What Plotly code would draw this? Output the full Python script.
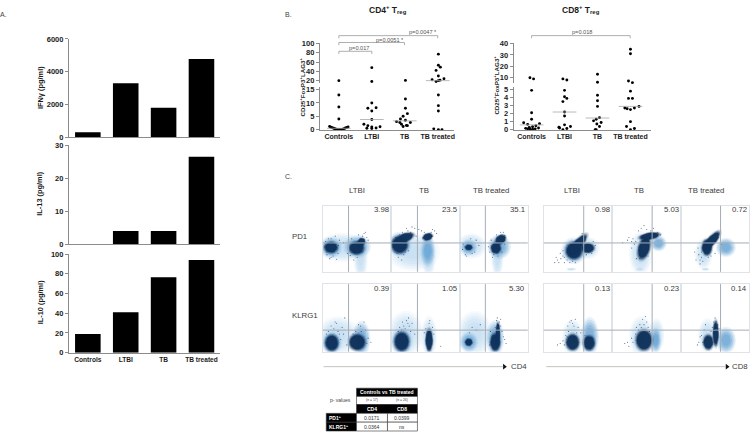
import math
import plotly.graph_objects as go

W, H = 750, 436
FONT = "Liberation Sans"

# ---------- Panel A data ----------
groups = ["Controls", "LTBI", "TB", "TB treated"]
ifng = [300, 3300, 1800, 4780]
il13 = [0, 4, 4, 26.5]
il10 = [19, 41, 76.5, 94]

# ---------- Panel B data: (offset from category, value) ----------
cd4_controls = [(0,20),(0,13),(0,8.5),(0,4),(-.28,1.2),(-.24,.9),(-.2,.7),(-.16,.5),(-.12,.35),(-.08,.2),(-.04,.1),(0,0),(.04,.05),(.08,.1),(.12,.2),(.16,.4),(.2,.6),(.24,.8),(.28,1.0)]
cd4_ltbi = [(0,48),(0,18),(0,10),(-.12,8),(.13,8.2),(0,7),(0,3.8),(-.24,2),(-.12,1.5),(-.15,.5),(0,1),(0,.4),(.13,.6),(.25,1.1)]
cd4_tb = [(.02,20.5),(.02,11.5),(.02,8),(.08,6),(-.05,5),(-.13,4),(.02,3.5),(.17,2.7),(-.15,2.7),(-.25,3),(-.1,2),(.08,1.5),(-.05,1.2),(.05,1.6)]
cd4_treated = [(.02,77),(.02,53),(.08,49),(-.05,42),(.02,30),(.19,24),(-.17,22),(.07,21),(-.05,18),(.02,20),(.02,13),(.02,9),(.02,7),(-.12,.3),(.02,0),(.13,0)]
cd4_medians = [.5, 3.8, 3.3, 20]
cd8_controls = [(-.05,10),(.06,9),(0,4.9),(0,2.1),(0,1.3),(-.24,.86),(-.12,.66),(.24,.74),(.13,.49),(.03,.37),(-.07,.29),(-.18,.16),(-.12,.1),(-.05,.05),(.03,.05),(.11,.1),(.21,.2)]
cd8_ltbi = [(-.05,9),(.07,8),(0,4.9),(0,4.1),(.07,3.9),(-.05,3.5),(0,2.2),(0,1.7),(0,.6),(.18,.4),(-.17,.3),(.07,.15),(-.15,.2),(-.05,0)]
cd8_tb = [(0,13),(0,6),(0,4.3),(0,3.6),(0,2.9),(.06,1.5),(-.04,1.3),(-.12,1.1),(.11,.9),(-.02,.7),(.06,.4),(-.07,0),(-.04,0)]
cd8_treated = [(0,35),(0,31),(-.06,7.1),(.06,5.7),(0,4.8),(-.06,3.9),(.06,3.9),(.26,2.9),(.12,2.7),(-.1,2.6),(0,2.5),(-.17,2.7),(0,1),(-.12,.4),(.12,.15),(0,0)]
cd8_medians = [.6, 2.2, 1.45, 2.9]

# ---------- Panel C data ----------
flow_headers = ["LTBI", "TB", "TB treated"]
flow_rows = ["PD1", "KLRG1"]
flow_freq = [["3.98","23.5","35.1","0.98","5.03","0.72"],["0.39","1.05","5.30","0.13","0.23","0.14"]]
# blobs per panel, in % of panel: x, y, rx, ry, angle, level(0 pale,1 mid,2 navy)
flow_blobs = {
 0:[(28,37,27,17,0,0),(55,22,8,28,0,0),(12,37,12,12,0,1),(50,38,15,13,0,1),(12,37,9,8,0,2),(49,36,10,9,0,2),(56,45,6,5,60,2)],
 1:[(32,30,30,22,0,0),(54,22,8,24,0,0),(53,32,8,18,0,1),(12,42,13,14,0,1),(12,41,11,12,0,2),(20,52,12,6,20,2),(53,53,7,5,20,2)],
 2:[(17,39,17,15,0,0),(55,20,7,22,0,0),(13,37,9,9,0,1),(58,38,13,14,0,1),(13,37,5,4,0,2),(53,36,7,8,0,2),(60,49,8,6,40,2)],
 3:[(64,36,14,13,0,0),(40,4,6,2,0,0),(44,32,14,15,0,1),(44,32,11,12,0,2),(50,42,17,6,50,2),(64,36,9,7,0,2)],
 4:[(41,28,13,26,0,0),(40,4,5,2,0,0),(67,43,9,9,0,1),(46,36,8,16,-15,2),(54,54,14,5,10,2)],
 5:[(33,27,10,18,0,0),(36,4,5,2,0,0),(66,37,11,11,0,1),(38,37,7,11,0,2),(45,47,16,6,50,2)],
 6:[(22,24,24,22,0,0),(56,19,10,20,0,1),(13,13,11,13,0,1),(13,13,9,11,0,2),(50,14,11,11,0,2)],
 7:[(21,27,20,26,0,0),(55,22,9,24,0,0),(15,15,12,15,0,1),(15,15,10,13,0,2),(55,17,5,15,0,2)],
 8:[(22,27,20,26,0,0),(52,20,10,20,0,1),(13,14,10,11,0,1),(13,14,5,5,0,2),(52,14,7,12,0,2),(56,27,3,15,0,2)],
 9:[(42,20,12,22,0,0),(67,22,10,22,0,1),(42,14,9,11,0,2),(66,13,8,10,0,2)],
 10:[(42,22,14,24,0,0),(64,24,9,20,0,0),(63,17,6,14,0,1),(46,17,11,14,0,2)],
 11:[(39,24,11,20,0,0),(66,17,11,15,0,1),(40,14,7,10,0,2),(51,27,4,17,0,2)],
}
# sparse events read around the populations, % of panel
flow_specks = {
 0:[(8,50),(15,24),(20,19),(5,30),(24,48),(30,44),(60,58),(64,52),(58,30),(12,22),(40,25),(45,18),(62,60),(18,54),(3,38),(6,26),(10,20),(22,28),(23,40),(4,46),(12,50),(60,48),(63,44),(42,50),(36,28),(52,56),(58,54),(50,22),(66,48)],
 1:[(5,30),(10,22),(15,18),(24,62),(30,68),(34,66),(26,56),(60,64),(58,60),(66,58),(48,60),(38,58),(8,28),(18,26),(3,40),(16,60),(12,56),(22,66),(28,60),(36,54),(44,62),(63,62),(46,50),(25,32),(20,30),(6,52),(40,64),(30,56)],
 2:[(5,42),(18,28),(24,48),(28,40),(10,24),(54,56),(66,55),(44,30),(48,22),(62,30),(4,34),(8,26),(22,30),(16,50),(64,60),(60,60),(46,48),(42,38),(50,26),(56,24),(66,42)],
 3:[(25,20),(20,18),(30,14),(36,26),(16,14),(28,24),(60,48),(75,40),(58,24),(34,18),(24,28),(30,22),(33,30),(42,16),(38,14),(46,14),(62,26),(70,28),(72,46),(56,58),(22,14),(28,32),(18,22)],
 4:[(22,48),(15,44),(30,50),(38,62),(60,66),(66,60),(50,64),(35,20),(28,36),(70,56),(24,52),(34,46),(42,66),(46,70),(56,62),(62,58),(32,42),(28,46),(52,48),(40,20),(52,24)],
 5:[(22,18),(28,12),(30,22),(25,36),(52,56),(60,42),(20,30),(58,26),(26,26),(32,16),(34,44),(30,30),(50,28),(44,24),(40,22),(55,52),(28,18)],
 6:[(20,42),(28,36),(12,38),(55,38),(62,32),(32,50),(60,44),(8,30),(70,14),(5,26),(4,14),(22,30),(24,26),(16,34),(26,18),(18,44),(66,20),(64,12),(48,30),(44,26),(56,30),(52,40),(35,10),(30,26)],
 7:[(22,46),(30,42),(18,38),(25,50),(55,42),(60,36),(38,34),(72,8),(10,30),(15,32),(20,34),(28,30),(26,38),(34,26),(12,36),(24,42),(16,44),(62,26),(50,34),(56,46),(48,28)],
 8:[(30,40),(58,44),(55,50),(60,38),(18,36),(68,12),(45,30),(62,30),(54,46),(52,36),(64,22),(66,18),(24,32),(14,28),(48,24),(44,10),(60,48)],
 9:[(42,42),(46,48),(35,38),(28,16),(20,10),(50,36),(32,24),(40,46),(44,38),(36,30),(24,12),(30,10),(34,22),(38,44),(48,28),(54,28),(60,24)],
 10:[(44,48),(40,40),(50,44),(28,20),(18,12),(35,36),(24,8),(46,40),(42,36),(38,32),(52,36),(30,14),(22,14),(34,26),(48,52),(54,30)],
 11:[(50,50),(52,44),(36,40),(26,14),(46,36),(30,24),(48,44),(54,40),(28,22),(34,32),(24,10),(44,30),(32,14),(56,34)],
}
table_cols = ["CD4", "CD8"]
table_n = ["(n = 17)", "(n = 26)"]
table_rows = ["PD1<sup>+</sup>", "KLRG1<sup>+</sup>"]
table_vals = [["0.0171", "0.0399"], ["0.0364", "ns"]]

# ---------- helpers ----------
px = lambda v: v / W
py = lambda v: 1 - v / H
fig = go.Figure()
layout = {}
ax_n = [0]
annotations, shapes = [], []
AX = "#8c8c8c"
TXT = "#1c1c1c"

def new_axes(x0, x1, ytop, ybot, xopts, yopts):
    ax_n[0] += 1
    n = ax_n[0]
    s = "" if n == 1 else str(n)
    layout["xaxis" + s] = dict(domain=[px(x0), px(x1)], anchor="y" + s, fixedrange=True, showgrid=False, zeroline=False, **xopts)
    layout["yaxis" + s] = dict(domain=[py(ybot), py(ytop)], anchor="x" + s, fixedrange=True, showgrid=False, zeroline=False, **yopts)
    return "x" + s, "y" + s

def text(s, x, y, size=7, color=TXT, bold=False, anchor="center", angle=0, family=FONT):
    annotations.append(dict(text=s, x=px(x), y=py(y), xref="paper", yref="paper", showarrow=False, xanchor=anchor, yanchor="middle",
                            textangle=angle, font=dict(size=size, color=color, family=family, weight="bold" if bold else "normal")))

def line(x0, y0, x1, y1, color=AX, width=1):
    shapes.append(dict(type="line", xref="paper", yref="paper", x0=px(x0), x1=px(x1), y0=py(y0), y1=py(y1), line=dict(color=color, width=width)))

def rect(x0, y0, x1, y1, fill):
    shapes.append(dict(type="rect", xref="paper", yref="paper", x0=px(x0), x1=px(x1), y0=py(y0), y1=py(y1), fillcolor=fill, line=dict(color="#333333", width=0.6)))

tickf = dict(size=7.5, color=TXT, family=FONT, weight="bold")
labf = dict(size=6.6, color=TXT, family=FONT, weight="bold")
yax = lambda vals, rng, txt=None: dict(range=rng, tickvals=vals, ticktext=txt or [str(v) for v in vals], showline=True, linecolor=AX, linewidth=1,
                                       ticks="outside", ticklen=3, tickcolor=AX, tickwidth=1, tickfont=tickf)

# ---------- Panel A ----------
bars = [(ifng, 35.7, 136, [0,2000,4000,6000], 6000, "IFN\u03b3 (pg/ml)", False),
        (il13, 144.3, 245.3, [0,10,20,30], 30, "IL-13 (pg/ml)", False),
        (il10, 255.3, 356, [0,20,40,60,80,100], 100, "IL-10 (pg/ml)", True)]
for vals, top, bot, ticks, ymax, title, lab in bars:
    xopt = dict(range=[-.5, 3.5], showline=True, linecolor=AX, linewidth=1, ticks="", tickfont=labf)
    xopt.update(dict(tickvals=[0,1,2,3], ticktext=groups) if lab else dict(tickvals=[], showticklabels=False))
    xa, ya = new_axes(69, 220.7, top, bot, xopt, yax(ticks, [0, ymax]))
    fig.add_trace(go.Bar(x=[0,1,2,3], y=vals, width=.675, marker=dict(color="#000000", line=dict(width=0)), xaxis=xa, yaxis=ya, hoverinfo="skip", showlegend=False))
    text(title, 40, (top + bot) / 2 - 1, size=7.4, bold=True, angle=-90)

# ---------- Panel B ----------
def strip(series, medians, xl, xr, first_px, low_max, up_min, up_max, low_ticks, up_ticks, lowtop=85):
    # category 0 sits at first_px with 33 px between categories
    rng = [(xl - first_px) / 33, (xr - first_px) / 33]
    low_x = dict(range=rng, tickvals=[0,1,2,3], ticktext=groups, showline=True, linecolor=AX, linewidth=1, ticks="", tickfont=dict(size=7, color=TXT, family=FONT, weight="bold"))
    up_x = dict(range=rng, visible=False)
    xa, ya = new_axes(xl, xr, lowtop, 128.3, low_x, yax(low_ticks, [0, low_max]))
    xb, yb = new_axes(xl, xr, 40.3, 81, up_x, yax(up_ticks, [up_min, up_max]))
    for i, pts in enumerate(series):
        lo = [p for p in pts if p[1] <= low_max]
        hi = [p for p in pts if p[1] > low_max]
        m = dict(color="#000000", size=2.9)
        fig.add_trace(go.Scatter(x=[i + p[0] for p in lo], y=[p[1] for p in lo], mode="markers", marker=m, cliponaxis=False, xaxis=xa, yaxis=ya, hoverinfo="skip", showlegend=False))
        fig.add_trace(go.Scatter(x=[i + p[0] for p in hi], y=[p[1] for p in hi], mode="markers", marker=m, cliponaxis=False, xaxis=xb, yaxis=yb, hoverinfo="skip", showlegend=False))
        on_up = medians[i] > low_max
        fig.add_trace(go.Scatter(x=[i - .36, i + .36], y=[medians[i]] * 2, mode="lines", line=dict(color="#a8a8a8", width=.8),
                                 xaxis=xb if on_up else xa, yaxis=yb if on_up else ya, hoverinfo="skip", showlegend=False))

strip([cd4_controls, cd4_ltbi, cd4_tb, cd4_treated], cd4_medians, 320.3, 455, 339.3, 15.9, 14.2, 100, [0,5,10,15], [20,40,60,80,100])
strip([cd8_controls, cd8_ltbi, cd8_tb, cd8_treated], cd8_medians, 514.3, 652, 532.3, 5.35, 5.1, 40, [0,1,2,3,4,5], [10,20,30,40], lowtop=84.5)

BR = "#9a9a9a"
for x0, x1, yy, label, tx, ty in [(339.3,372.3,48.3,"p=0.017",359,45),(339.3,405,39.3,"p=0.0051 *",391,36.5),(339.3,438.3,32.3,"p=0.0047 *",424,28.7),(532.3,631,32.3,"p=0.018",583,28.7)]:
    line(x0, yy, x1, yy, BR, .8); line(x0, yy, x0, yy + 2.7, BR, .8); line(x1, yy, x1, yy + 2.7, BR, .8)
    text(label, tx, ty, size=5.6, color="#555555")
ylab = "CD25<sup>+</sup>FoxP3<sup>+</sup>LAG3<sup>+</sup>"
text(ylab, 302.7, 85, size=6.2, bold=True, angle=-90)
text(ylab, 497, 83, size=6.2, bold=True, angle=-90)
text("CD4<sup>+</sup> T<sub>reg</sub>", 389, 6, size=8.5, bold=True)
text("CD8<sup>+</sup> T<sub>reg</sub>", 581.7, 6, size=8.5, bold=True)
text("A.", 4, 11, size=7, color="#444444")
text("B.", 289, 11, size=7, color="#444444")
text("C.", 289, 176, size=7, color="#444444")

# ---------- Panel C ----------
lefts = [323.3, 392, 460.5, 544.5, 613.2, 682]
rights = [392, 460.5, 528.5, 613.2, 682, 750]
gate_x = [349, 418, 486, 584.5, 653, 721.5]
rows_px = [(206, 273.5, 244), (286, 355, 333)]
FILL = {0: ("#bcdaf0", [(1.3,.14),(1.15,.18),(1.0,.22),(.85,.25),(.65,.3),(.45,.3)]),
        1: ("#5d9ed2", [(1.35,.12),(1.18,.2),(1.0,.28),(.8,.35),(.6,.35)]),
        2: ("#10335c", [(1.35,.14),(1.2,.28),(1.08,.5),(.95,.95)])}

def ellipse(cx, cy, rx, ry, ang, k):
    a = math.radians(ang)
    xs, ys = [], []
    for d in range(0, 361, 20):
        t = math.radians(d)
        ex, ey = rx * k * math.cos(t), ry * k * math.sin(t)
        xs.append(cx + ex * math.cos(a) - ey * math.sin(a))
        ys.append(cy + ex * math.sin(a) + ey * math.cos(a))
    return xs, ys

idx = 0
hid = dict(range=[0, 100], tickvals=[], showticklabels=False, ticks="", showline=True, mirror=True, linecolor="#dfe3e8", linewidth=1)
for r, (top, bot, gy) in enumerate(rows_px):
    for c in range(6):
        xa, ya = new_axes(lefts[c], rights[c], top, bot, dict(hid), dict(hid))
        for b in sorted(flow_blobs[idx], key=lambda b: b[5]):
            color, layers = FILL[b[5]]
            for k, op in layers:
                xs, ys = ellipse(b[0], b[1], b[2], b[3], b[4], k)
                fig.add_trace(go.Scatter(x=xs, y=ys, mode="lines", fill="toself", fillcolor=color, opacity=op, line=dict(width=0),
                                         xaxis=xa, yaxis=ya, hoverinfo="skip", showlegend=False))
        sp = flow_specks[idx]
        fig.add_trace(go.Scatter(x=[p[0] for p in sp], y=[p[1] for p in sp], mode="markers", marker=dict(size=1.1, color="#1b3a63", opacity=.75),
                                 xaxis=xa, yaxis=ya, hoverinfo="skip", showlegend=False))
        line(gate_x[c], top, gate_x[c], bot, "#a4adb7", 1)
        line(lefts[c], gy, rights[c], gy, "#a4adb7", 1)
        text(flow_freq[r][c], rights[c] - .3, top + 4 if r == 0 else top + 4.5, size=7.8, color="#3d3d3d", anchor="right")
        idx += 1
for cx, h in zip([357, 425, 491.7, 572.7, 640, 706.7], flow_headers * 2):
    text(h, cx, 190.7, size=7.8, color="#3d3d3d")
text(flow_rows[0], 300, 237.7, size=7.8, color="#3d3d3d")
text(flow_rows[1], 305, 318.3, size=7.8, color="#3d3d3d")

# axis arrows of panel C: a page-wide invisible axis pair places the heads
xo, yo = new_axes(0, W, 0, H, dict(range=[0, W], visible=False), dict(range=[H, 0], visible=False))
heads_x, heads_y = [], []
for x0, x1, lab, lx in [(324, 504, "CD4", 519.5), (547, 727, "CD8", 741)]:
    line(x0, 370.3, x1, 370.3, "#b5b5b5", .8)
    heads_x.append(x1 + 1); heads_y.append(370.3)
    text(lab, lx, 370.3, size=7.8, color="#3d3d3d")
fig.add_trace(go.Scatter(x=heads_x, y=heads_y, mode="markers", marker=dict(symbol="triangle-right", size=5, color="#111111", line=dict(width=0)),
                         xaxis=xo, yaxis=yo, hoverinfo="skip", showlegend=False))

# ---------- p-value table ----------
T = dict(x=[326.7, 357, 388, 418], y=[392.3, 400.7, 409, 418, 427, 436])
rect(T["x"][1], T["y"][0], T["x"][3], T["y"][1], "#000000")
rect(T["x"][1], T["y"][1], T["x"][3], T["y"][2], "#ffffff")
rect(T["x"][1], T["y"][2], T["x"][3], T["y"][3], "#000000")
for i in range(2):
    rect(T["x"][0], T["y"][3 + i], T["x"][1], T["y"][4 + i], "#000000")
    for j in range(2):
        rect(T["x"][1 + j], T["y"][3 + i], T["x"][2 + j], T["y"][4 + i], "#ffffff")
        text(table_vals[i][j], (T["x"][1 + j] + T["x"][2 + j]) / 2, (T["y"][3 + i] + T["y"][4 + i]) / 2, size=5, color="#333333")
    text(table_rows[i], T["x"][0] + 1, (T["y"][3 + i] + T["y"][4 + i]) / 2, size=5, color="#ffffff", bold=True, anchor="left")
for j in range(2):
    cx = (T["x"][1 + j] + T["x"][2 + j]) / 2
    text(table_n[j], cx, 404.5, size=3.4, color="#444444")
    text(table_cols[j], cx, 413.5, size=5, color="#ffffff", bold=True)
text("Controls vs TB treated", 387.5, 396.5, size=5, color="#ffffff", bold=True)
text("p- values", 340.7, 404, size=5, color="#444444")

fig.update_layout(width=W, height=H, margin=dict(l=0, r=0, t=0, b=0), paper_bgcolor="#ffffff", plot_bgcolor="rgba(0,0,0,0)",
                  showlegend=False, bargap=.32, annotations=annotations, shapes=shapes, **layout)
fig.write_html("out.html", config=dict(displayModeBar=False), post_script="document.body.style.margin='0';document.documentElement.style.overflow='hidden';")
